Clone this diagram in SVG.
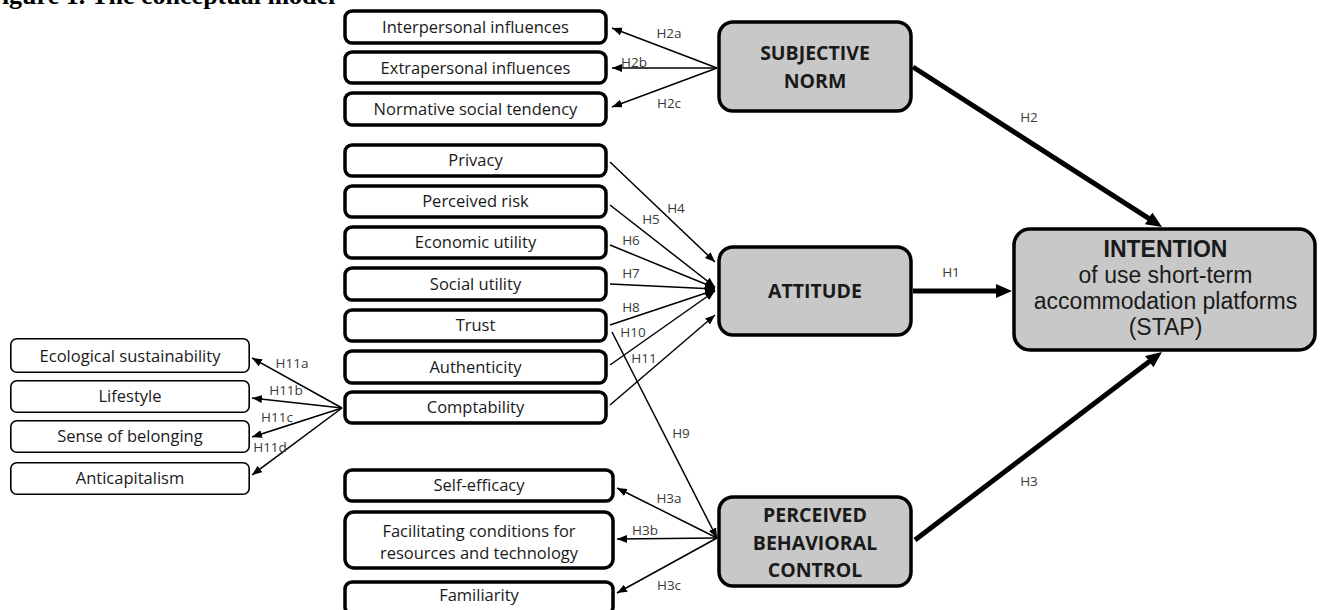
<svg xmlns="http://www.w3.org/2000/svg" width="1322" height="610" viewBox="0 0 1322 610">
<style>
.box{fill:#fff;stroke:#000;stroke-width:3.5}
.lbox{fill:#fff;stroke:#000;stroke-width:1.6}
.big{fill:#c8c8c8;stroke:#000;stroke-width:3.5}
.t{font-family:"Open Sans","Liberation Sans",sans-serif;font-size:16.5px;fill:#1a1a1a;text-anchor:middle}
.bt{font-family:"Open Sans","Liberation Sans",sans-serif;font-size:19.5px;font-weight:bold;fill:#1a1a1a;text-anchor:middle}
.it{font-family:"Liberation Sans","Open Sans",sans-serif;font-size:23px;fill:#1a1a1a;text-anchor:middle}
.lab{font-family:"Open Sans","Liberation Sans",sans-serif;font-size:13.5px;fill:#3a3a3a;text-anchor:middle}
.thin{stroke:#000;stroke-width:1.5;fill:none;marker-end:url(#ah)}
.thick{stroke:#000;stroke-width:5;fill:none;marker-end:url(#AH)}
.title{font-family:"Liberation Serif",serif;font-size:26px;font-weight:bold;fill:#000}
</style>
<defs>
<marker id="ah" markerUnits="userSpaceOnUse" markerWidth="11" markerHeight="9" refX="10" refY="4" orient="auto">
<path d="M0,0 L10,4 L0,8 z" fill="#000"/>
</marker>
<marker id="AH" markerUnits="userSpaceOnUse" markerWidth="17" markerHeight="15" refX="8" refY="7" orient="auto">
<path d="M0,0 L16,7 L0,14 z" fill="#000"/>
</marker>
</defs>
<rect width="1322" height="610" fill="#fff"/>
<text class="title" x="-14" y="4">Figure 1. The conceptual model</text>

<g id="connectors">
<line class="thin" x1="717" y1="68" x2="612" y2="28"/>
<line class="thin" x1="717" y1="68" x2="612" y2="68"/>
<line class="thin" x1="717" y1="68" x2="612" y2="107"/>
<line class="thin" x1="610" y1="162" x2="715" y2="262"/>
<line class="thin" x1="610" y1="205" x2="715" y2="287"/>
<line class="thin" x1="610" y1="245" x2="715" y2="288"/>
<line class="thin" x1="610" y1="284" x2="715" y2="289"/>
<line class="thin" x1="610" y1="325" x2="715" y2="290"/>
<line class="thin" x1="610" y1="365" x2="715" y2="291"/>
<line class="thin" x1="610" y1="405" x2="715" y2="315"/>
<line class="thin" x1="612" y1="332" x2="717" y2="538"/>
<line class="thin" x1="717" y1="538" x2="617" y2="488"/>
<line class="thin" x1="717" y1="538" x2="617" y2="539"/>
<line class="thin" x1="717" y1="538" x2="617" y2="593"/>
<line class="thin" x1="342" y1="408" x2="252" y2="358"/>
<line class="thin" x1="342" y1="408" x2="252" y2="398"/>
<line class="thin" x1="342" y1="408" x2="252" y2="437"/>
<line class="thin" x1="342" y1="408" x2="252" y2="475"/>
<line class="thick" x1="913" y1="67" x2="1155.3" y2="222.7"/>
<line class="thick" x1="913" y1="291" x2="1004" y2="291"/>
<line class="thick" x1="915" y1="540" x2="1155.6" y2="356.8"/>
<text class="lab" x="669" y="38">H2a</text>
<text class="lab" x="634" y="67">H2b</text>
<text class="lab" x="669" y="108">H2c</text>
<text class="lab" x="676" y="213">H4</text>
<text class="lab" x="651" y="224">H5</text>
<text class="lab" x="631" y="245">H6</text>
<text class="lab" x="631" y="278">H7</text>
<text class="lab" x="631" y="312">H8</text>
<text class="lab" x="633" y="337">H10</text>
<text class="lab" x="644" y="363">H11</text>
<text class="lab" x="681" y="438">H9</text>
<text class="lab" x="669" y="503">H3a</text>
<text class="lab" x="645" y="535">H3b</text>
<text class="lab" x="669" y="590">H3c</text>
<text class="lab" x="292" y="368">H11a</text>
<text class="lab" x="286" y="395">H11b</text>
<text class="lab" x="277" y="422">H11c</text>
<text class="lab" x="270" y="452">H11d</text>
<text class="lab" x="951" y="277">H1</text>
<text class="lab" x="1029" y="122">H2</text>
<text class="lab" x="1029" y="486">H3</text>
</g>

<g id="interpersonal"><rect class="box" x="345" y="11" width="261" height="32" rx="7"/><text class="t" x="475.5" y="33">Interpersonal influences</text></g>
<g id="extrapersonal"><rect class="box" x="345" y="52" width="261" height="31" rx="7"/><text class="t" x="475.5" y="74">Extrapersonal influences</text></g>
<g id="normative"><rect class="box" x="345" y="93" width="261" height="32" rx="7"/><text class="t" x="475.5" y="115">Normative social tendency</text></g>

<g id="privacy"><rect class="box" x="345" y="145" width="261" height="31" rx="7"/><text class="t" x="475.5" y="166">Privacy</text></g>
<g id="perceived-risk"><rect class="box" x="345" y="186" width="261" height="31" rx="7"/><text class="t" x="475.5" y="207">Perceived risk</text></g>
<g id="economic-utility"><rect class="box" x="345" y="227" width="261" height="31" rx="7"/><text class="t" x="475.5" y="248">Economic utility</text></g>
<g id="social-utility"><rect class="box" x="345" y="268" width="261" height="32" rx="7"/><text class="t" x="475.5" y="290">Social utility</text></g>
<g id="trust"><rect class="box" x="345" y="310" width="261" height="31" rx="7"/><text class="t" x="475.5" y="331">Trust</text></g>
<g id="authenticity"><rect class="box" x="345" y="351" width="261" height="32" rx="7"/><text class="t" x="475.5" y="373">Authenticity</text></g>
<g id="comptability"><rect class="box" x="345" y="392" width="261" height="31" rx="7"/><text class="t" x="475.5" y="413">Comptability</text></g>

<g id="self-efficacy"><rect class="box" x="345" y="470" width="268" height="31" rx="7"/><text class="t" x="479" y="491">Self-efficacy</text></g>
<g id="facilitating"><rect class="box" x="345" y="512" width="268" height="56" rx="9"/><text class="t" x="479" y="537">Facilitating conditions for<tspan x="479" dy="22">resources and technology</tspan></text></g>
<g id="familiarity"><rect class="box" x="345" y="582" width="268" height="32" rx="7"/><text class="t" x="479" y="601">Familiarity</text></g>

<g id="ecological"><rect class="lbox" x="10.8" y="338.8" width="238.4" height="33.4" rx="6"/><text class="t" x="130" y="362">Ecological sustainability</text></g>
<g id="lifestyle"><rect class="lbox" x="10.8" y="380.8" width="238.4" height="31.4" rx="6"/><text class="t" x="130" y="402">Lifestyle</text></g>
<g id="belonging"><rect class="lbox" x="10.8" y="420.8" width="238.4" height="31.4" rx="6"/><text class="t" x="130" y="442">Sense of belonging</text></g>
<g id="anticapitalism"><rect class="lbox" x="10.8" y="462.8" width="238.4" height="31.4" rx="6"/><text class="t" x="130" y="484">Anticapitalism</text></g>

<g id="subjective-norm"><rect class="big" x="719" y="22" width="192" height="89" rx="14"/><text class="bt" x="815" y="60">SUBJECTIVE<tspan x="815" dy="28">NORM</tspan></text></g>
<g id="attitude"><rect class="big" x="719" y="247" width="192" height="88" rx="14"/><text class="bt" x="815" y="298">ATTITUDE</text></g>
<g id="pbc"><rect class="big" x="719" y="497" width="192" height="89" rx="14"/><text class="bt" x="815" y="522">PERCEIVED<tspan x="815" dy="28">BEHAVIORAL</tspan><tspan x="815" dy="27">CONTROL</tspan></text></g>
<g id="intention"><rect class="big" x="1014" y="229" width="301" height="121" rx="16"/><text class="it" x="1165.5" y="257" font-weight="bold">INTENTION</text><text class="it" x="1165.5" y="283">of use short-term</text><text class="it" x="1165.5" y="309">accommodation platforms</text><text class="it" x="1165.5" y="335">(STAP)</text></g>
</svg>
